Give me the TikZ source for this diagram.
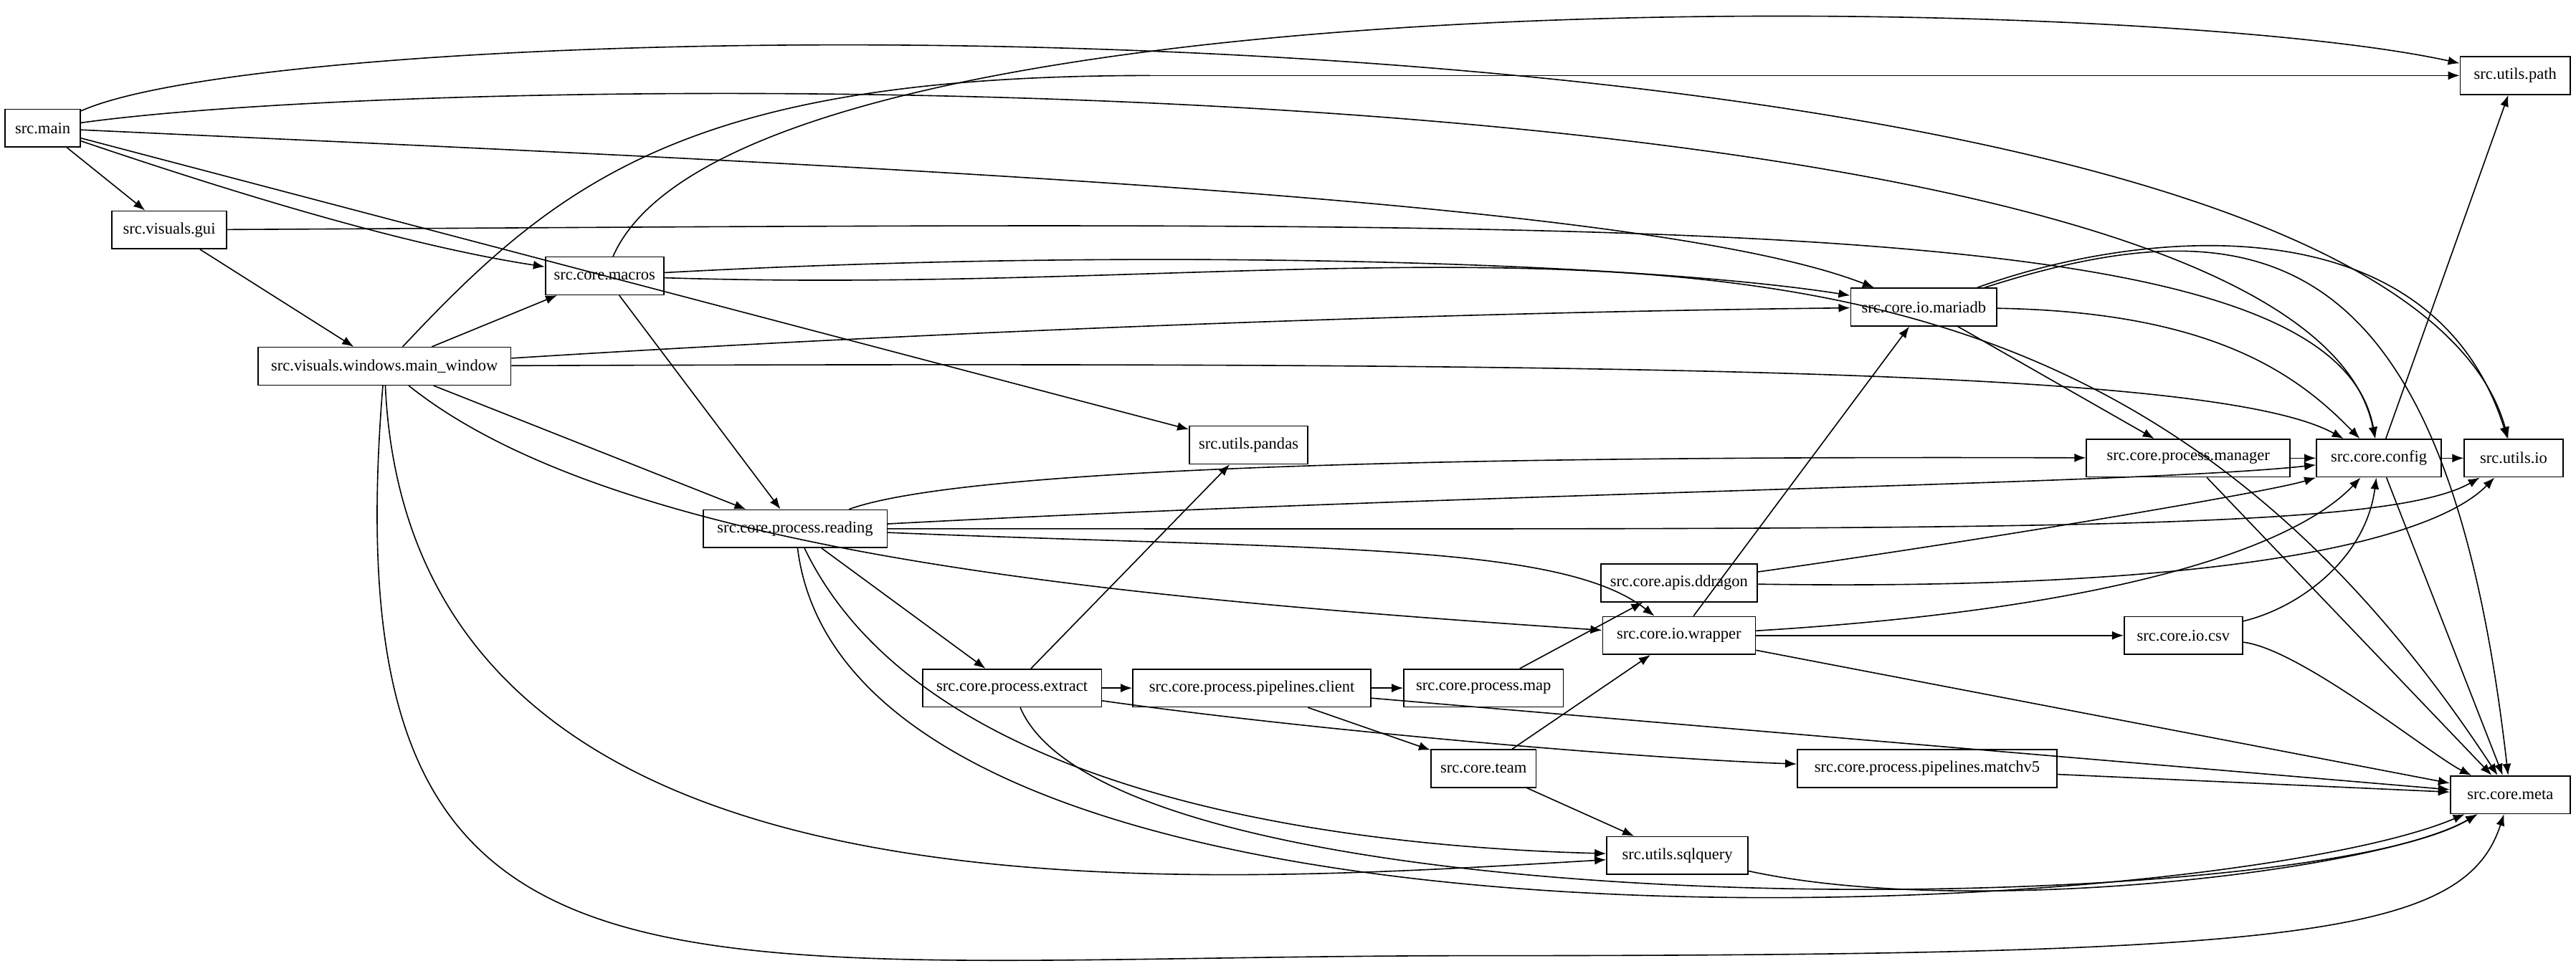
\documentclass[tikz,border=0pt]{standalone}
\usepackage{fontspec}
\setmainfont{Liberation Serif}
\usetikzlibrary{arrows.meta, positioning}

\begin{document}
\begin{tikzpicture}[x=0.02cm, y=-0.02cm,
    box/.style={draw, thin, minimum height=0.46cm, inner sep=1pt, font=\fontsize{5.6}{6.5}\selectfont},
    dep/.style={-{Latex[length=4pt,width=3pt]}, thin}]
    \useasboundingbox (0,0) rectangle (1568,591);

    % Modules
    \node[box, minimum width=0.92cm] (main) at (26,78) {src.main};
    \node[box, minimum width=1.40cm] (gui) at (103,140) {src.visuals.gui};
    \node[box, minimum width=3.08cm] (mainwin) at (234,223) {src.visuals.windows.main\_window};
    \node[box, minimum width=1.44cm] (macros) at (368,168) {src.core.macros};
    \node[box, minimum width=1.44cm] (pandas) at (760,271) {src.utils.pandas};
    \node[box, minimum width=2.24cm] (reading) at (484,322) {src.core.process.reading};
    \node[box, minimum width=1.78cm] (mariadb) at (1171,187) {src.core.io.mariadb};
    \node[box, minimum width=2.48cm] (manager) at (1332,279) {src.core.process.manager};
    \node[box, minimum width=1.52cm] (config) at (1448,279) {src.core.config};
    \node[box, minimum width=1.20cm] (uio) at (1530,279) {src.utils.io};
    \node[box, minimum width=1.34cm] (upath) at (1531,46) {src.utils.path};
    \node[box, minimum width=1.90cm] (ddragon) at (1022,355) {src.core.apis.ddragon};
    \node[box, minimum width=1.86cm] (wrapper) at (1022,387) {src.core.io.wrapper};
    \node[box, minimum width=1.94cm] (pmap) at (903,419) {src.core.process.map};
    \node[box, minimum width=2.18cm] (extract) at (616,419) {src.core.process.extract};
    \node[box, minimum width=2.90cm] (client) at (762,419) {src.core.process.pipelines.client};
    \node[box, minimum width=1.44cm] (csv) at (1329,387) {src.core.io.csv};
    \node[box, minimum width=1.46cm] (meta) at (1528,484) {src.core.meta};
    \node[box, minimum width=1.28cm] (team) at (903,468) {src.core.team};
    \node[box, minimum width=3.16cm] (matchv) at (1173,468) {src.core.process.pipelines.matchv5};
    \node[box, minimum width=1.72cm] (sqlq) at (1021,521) {src.utils.sqlquery};
    \coordinate (pathbend) at (700,46);

    % Imports of src.main
    \draw[dep] (main) .. controls (200,0) and (1450,-10) .. (uio);
    \draw[dep] (main) .. controls (300,40) and (1400,35) .. (config);
    \draw[dep] (main) .. controls (500,100) and (1000,120) .. (mariadb);
    \draw[dep] (main) -- (pandas);
    \draw[dep] (main) .. controls (150,120) and (250,150) .. (macros);
    \draw[dep] (main) -- (gui);

    % GUI
    \draw[dep] (gui) -- (mainwin);
    \draw[dep] (gui) .. controls (1000,135) and (1420,125) .. (config);
    \draw[dep] (mainwin) -- (macros);
    \draw (mainwin) .. controls (340,110) and (420,46) .. (pathbend);
    \draw[dep] (pathbend) -- (upath);
    \draw[dep] (mainwin) .. controls (600,200) and (900,190) .. (mariadb);
    \draw[dep] (mainwin) .. controls (1000,220) and (1350,225) .. (config);
    \draw[dep] (mainwin) -- (reading);
    \draw[dep] (mainwin) .. controls (380,340) and (700,365) .. (wrapper);
    \draw[dep] (mainwin) .. controls (250,570) and (700,540) .. (sqlq);
    \draw[dep] (mainwin) .. controls (200,640) and (400,582) .. (900,582)
        .. controls (1400,582) and (1500,570) .. (meta);

    % Macros
    \draw[dep] (macros) .. controls (450,-20) and (1300,-5) .. (upath);
    \draw[dep] (macros) .. controls (700,150) and (1000,160) .. (mariadb);
    \draw[dep] (macros) .. controls (900,185) and (1250,60) .. (meta);
    \draw[dep] (macros) -- (reading);

    % Database and config
    \draw[dep] (mariadb) .. controls (1300,140) and (1480,120) .. (uio);
    \draw[dep] (mariadb) .. controls (1350,190) and (1400,230) .. (config);
    \draw[dep] (mariadb) .. controls (1380,120) and (1490,150) .. (meta);
    \draw[dep] (mariadb) -- (manager);
    \draw[dep] (manager) -- (config);
    \draw[dep] (manager) -- (meta);
    \draw[dep] (config) -- (upath);
    \draw[dep] (config) -- (uio);
    \draw[dep] (config) -- (meta);

    % Reading
    \draw[dep] (reading) .. controls (600,280) and (1000,278) .. (manager);
    \draw[dep] (reading) .. controls (900,300) and (1300,295) .. (config);
    \draw[dep] (reading) .. controls (1200,322) and (1450,325) .. (uio);
    \draw[dep] (reading) .. controls (800,335) and (950,330) .. (wrapper);
    \draw[dep] (reading) -- (extract);
    \draw[dep] (reading) .. controls (560,480) and (800,515) .. (sqlq);
    \draw[dep] (reading) .. controls (520,610) and (1350,560) .. (meta);

    % Wrapper and apis
    \draw[dep] (ddragon) .. controls (1200,330) and (1380,300) .. (config);
    \draw[dep] (ddragon) .. controls (1350,360) and (1480,330) .. (uio);
    \draw[dep] (wrapper) -- (mariadb);
    \draw[dep] (wrapper) .. controls (1300,370) and (1400,330) .. (config);
    \draw[dep] (wrapper) -- (csv);
    \draw[dep] (wrapper) -- (meta);
    \draw[dep] (csv) .. controls (1400,370) and (1440,340) .. (config);
    \draw[dep] (csv) .. controls (1400,395) and (1480,460) .. (meta);
    \draw[dep] (pmap) -- (ddragon);

    % Pipelines
    \draw[dep] (extract) -- (pandas);
    \draw[dep] (extract) -- (client);
    \draw[dep] (extract) .. controls (800,445) and (1000,462) .. (matchv);
    \draw[dep] (extract) .. controls (680,570) and (1400,560) .. (meta);
    \draw[dep] (client) -- (pmap);
    \draw[dep] (client) -- (team);
    \draw[dep] (client) -- (meta);
    \draw[dep] (team) -- (wrapper);
    \draw[dep] (team) -- (sqlq);
    \draw[dep] (matchv) -- (meta);
    \draw[dep] (sqlq) .. controls (1200,560) and (1450,530) .. (meta);
\end{tikzpicture}
\end{document}
